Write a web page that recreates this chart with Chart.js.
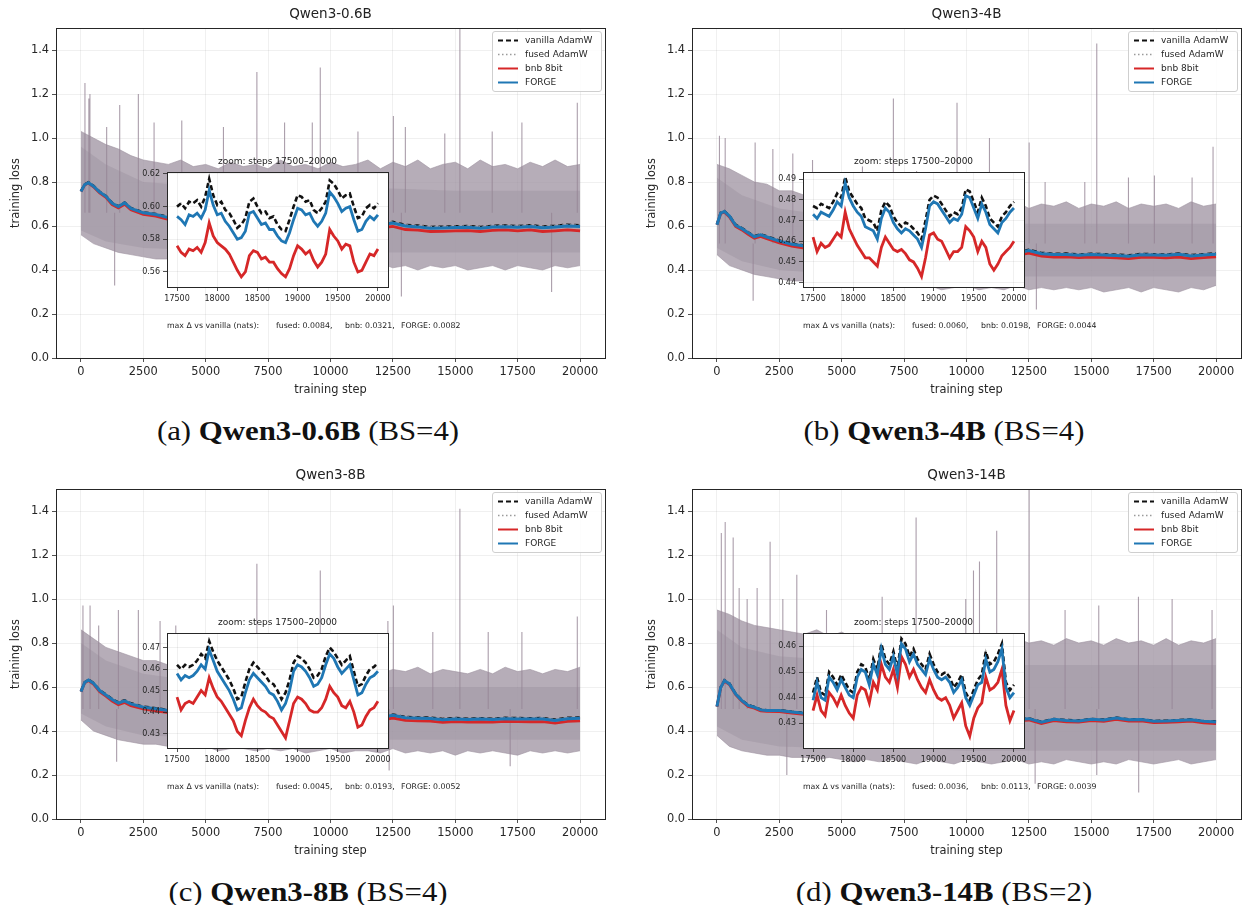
<!DOCTYPE html>
<html>
<head>
<meta charset="utf-8">
<script src="https://cdn.jsdelivr.net/npm/chart.js@4.4.6/dist/chart.umd.min.js"></script>
<style>
  body { margin: 0; width: 1243px; height: 905px; overflow: hidden; background: #fff; position: relative; }
  canvas { position: absolute; }
  .txt { position: absolute; white-space: pre; color: #222; font-family: "DejaVu Sans", sans-serif; line-height: 1; }
  .mid { transform: translate(-50%, -50%); }
  .lft { transform: translate(0, -50%); }
  .cap { position: absolute; white-space: pre; color: #111; font-family: "Liberation Serif", serif; font-size: 28px; line-height: 1;
         transform: translate(-50%, -50%) scaleX(1.1); }
</style>
</head>
<body>
<script>
// ---- data -----------------------------------------------------------------
const seriesNames = ['vanilla AdamW', 'fused AdamW', 'bnb 8bit', 'FORGE'];
const panelTitles = ['Qwen3-0.6B', 'Qwen3-4B', 'Qwen3-8B', 'Qwen3-14B'];
const panelLetters = ['(a)', '(b)', '(c)', '(d)'];
const batchSizes = [4, 4, 4, 2];

const fusedDelta = [0.0084, 0.0060, 0.0045, 0.0036];
const bnbDelta = [0.0321, 0.0198, 0.0193, 0.0113];
const forgeDelta = [0.0082, 0.0044, 0.0052, 0.0039];

const mainXTicks = [0, 2500, 5000, 7500, 10000, 12500, 15000, 17500, 20000];
const mainXLabels = ['0', '2500', '5000', '7500', '10000', '12500', '15000', '17500', '20000'];
const mainYTicks = [0, 0.2, 0.4, 0.6, 0.8, 1.0, 1.2, 1.4];
const mainYLabels = ['0.0', '0.2', '0.4', '0.6', '0.8', '1.0', '1.2', '1.4'];
const insetXTicks = [17500, 18000, 18500, 19000, 19500, 20000];
const insetXLabels = ['17500', '18000', '18500', '19000', '19500', '20000'];
const insetYTicks = [[0.56, 0.58, 0.60, 0.62], [0.44, 0.45, 0.46, 0.47, 0.48, 0.49], [0.43, 0.44, 0.45, 0.46, 0.47], [0.43, 0.44, 0.45, 0.46]];
const insetYLabels = [['0.56', '0.58', '0.60', '0.62'], ['0.44', '0.45', '0.46', '0.47', '0.48', '0.49'], ['0.43', '0.44', '0.45', '0.46', '0.47'], ['0.43', '0.44', '0.45', '0.46']];
const insetYRange = [[0.5508, 0.6212], [0.4379, 0.4934], [0.4233, 0.4768], [0.4204, 0.4652]];

// smoothed curves, main axes
const mainSteps = [0, 150, 300, 500, 750, 1000, 1250, 1500, 1750, 2000, 2500, 3000, 3500, 4000, 6000, 8000, 10000, 12000,
  12500, 13000, 13500, 14000, 14500, 15000, 15500, 16000, 16500, 17000, 17500, 18000, 18500, 19000, 19500, 20000];

const a_vanilla = [0.758,0.789,0.799,0.783,0.756,0.737,0.705,0.690,0.707,0.682,0.662,0.655,0.641,0.634,0.626,0.620,0.616,0.611,
  0.619,0.605,0.602,0.596,0.597,0.599,0.600,0.596,0.601,0.603,0.600,0.604,0.598,0.601,0.606,0.603];
const a_bnb = [0.757,0.787,0.795,0.778,0.750,0.730,0.697,0.682,0.699,0.674,0.653,0.645,0.630,0.620,0.608,0.600,0.595,0.591,
  0.598,0.584,0.581,0.575,0.576,0.578,0.579,0.575,0.580,0.582,0.578,0.582,0.575,0.578,0.582,0.578];
const a_forge = [0.757,0.788,0.797,0.781,0.754,0.735,0.703,0.688,0.705,0.680,0.660,0.652,0.638,0.630,0.622,0.615,0.610,0.606,
  0.614,0.600,0.596,0.590,0.591,0.593,0.594,0.590,0.595,0.597,0.594,0.598,0.592,0.595,0.600,0.598];

const b_vanilla = [0.607,0.661,0.668,0.647,0.606,0.591,0.572,0.554,0.563,0.553,0.534,0.520,0.512,0.507,0.498,0.492,0.486,0.482,
  0.492,0.478,0.474,0.475,0.471,0.474,0.472,0.470,0.467,0.473,0.472,0.470,0.475,0.468,0.472,0.476];
const b_bnb = [0.606,0.657,0.663,0.641,0.598,0.582,0.562,0.544,0.553,0.542,0.523,0.508,0.500,0.494,0.484,0.477,0.471,0.467,
  0.477,0.463,0.459,0.460,0.456,0.459,0.457,0.455,0.452,0.458,0.457,0.455,0.459,0.452,0.456,0.460];
const b_forge = [0.606,0.659,0.666,0.645,0.603,0.588,0.569,0.551,0.560,0.550,0.531,0.517,0.509,0.503,0.494,0.488,0.482,0.478,
  0.488,0.474,0.470,0.471,0.467,0.470,0.468,0.466,0.463,0.469,0.468,0.467,0.471,0.464,0.468,0.472];

const c_vanilla = [0.580,0.622,0.634,0.619,0.586,0.566,0.546,0.530,0.540,0.526,0.511,0.504,0.496,0.492,0.482,0.474,0.469,0.465,
  0.475,0.464,0.462,0.461,0.455,0.459,0.456,0.458,0.456,0.460,0.459,0.458,0.459,0.452,0.460,0.462];
const c_bnb = [0.579,0.619,0.629,0.613,0.579,0.558,0.536,0.520,0.530,0.515,0.500,0.492,0.484,0.478,0.467,0.459,0.453,0.449,
  0.459,0.448,0.446,0.445,0.439,0.443,0.440,0.442,0.440,0.444,0.443,0.442,0.443,0.436,0.444,0.446];
const c_forge = [0.579,0.621,0.632,0.617,0.584,0.564,0.543,0.527,0.537,0.523,0.508,0.501,0.493,0.488,0.478,0.470,0.465,0.461,
  0.471,0.460,0.458,0.457,0.451,0.455,0.452,0.454,0.452,0.456,0.455,0.454,0.455,0.448,0.456,0.458];

const d_vanilla = [0.512,0.599,0.631,0.616,0.570,0.540,0.518,0.510,0.498,0.495,0.495,0.488,0.483,0.479,0.472,0.464,0.457,0.454,
  0.458,0.442,0.455,0.450,0.448,0.455,0.452,0.461,0.453,0.454,0.446,0.447,0.450,0.453,0.446,0.443];
const d_bnb = [0.511,0.597,0.627,0.611,0.565,0.535,0.512,0.504,0.492,0.489,0.488,0.481,0.476,0.471,0.464,0.456,0.449,0.446,
  0.450,0.434,0.447,0.442,0.440,0.447,0.444,0.453,0.445,0.446,0.438,0.439,0.442,0.445,0.437,0.434];
const d_forge = [0.511,0.598,0.629,0.614,0.568,0.538,0.516,0.508,0.496,0.493,0.493,0.486,0.481,0.477,0.470,0.462,0.455,0.452,
  0.456,0.440,0.453,0.448,0.446,0.453,0.450,0.459,0.451,0.452,0.444,0.445,0.448,0.451,0.444,0.441];

// raw-loss envelope (outer reach of the noisy per-step curves)
const envSteps = [0, 500, 1000, 1500, 2000, 2500, 3000, 3500, 4000, 4500, 5000, 5500, 6000, 6500, 7000, 7500, 8000, 8500, 9000, 9500,
  10000, 10500, 11000, 11500, 12000, 12500, 13000, 13500, 14000, 14500, 15000, 15500, 16000, 16500, 17000, 17500, 18000, 18500, 19000, 19500, 20000];
const a_envUpper = [1.03,1.00,0.97,0.95,0.92,0.90,0.89,0.88,0.90,0.87,0.88,0.86,0.89,0.87,0.88,0.86,0.90,0.87,0.88,0.86,
  0.89,0.87,0.88,0.90,0.86,0.89,0.87,0.90,0.86,0.88,0.89,0.86,0.90,0.87,0.88,0.86,0.89,0.87,0.90,0.87,0.88];
const a_envLower = [0.56,0.52,0.50,0.48,0.47,0.46,0.45,0.45,0.44,0.44,0.43,0.44,0.42,0.43,0.42,0.43,0.42,0.43,0.41,0.42,
  0.43,0.41,0.42,0.41,0.43,0.41,0.42,0.40,0.42,0.41,0.42,0.40,0.41,0.42,0.40,0.42,0.41,0.40,0.42,0.41,0.42];
const b_envUpper = [0.88,0.86,0.83,0.80,0.79,0.76,0.76,0.74,0.73,0.75,0.72,0.73,0.71,0.72,0.70,0.72,0.70,0.71,0.69,0.70,
  0.71,0.68,0.70,0.69,0.71,0.68,0.70,0.69,0.71,0.68,0.70,0.69,0.71,0.68,0.70,0.69,0.70,0.68,0.71,0.69,0.70];
const b_envLower = [0.47,0.42,0.40,0.38,0.37,0.36,0.35,0.35,0.34,0.34,0.33,0.34,0.33,0.33,0.32,0.33,0.32,0.33,0.31,0.32,
  0.33,0.31,0.32,0.31,0.33,0.31,0.32,0.31,0.32,0.31,0.32,0.30,0.31,0.32,0.30,0.32,0.31,0.30,0.32,0.31,0.33];
const c_envUpper = [0.86,0.82,0.78,0.76,0.74,0.72,0.72,0.70,0.71,0.69,0.70,0.68,0.69,0.67,0.69,0.68,0.67,0.69,0.66,0.68,
  0.67,0.69,0.66,0.68,0.66,0.68,0.67,0.69,0.66,0.68,0.67,0.66,0.68,0.66,0.69,0.67,0.68,0.66,0.68,0.67,0.69];
const c_envLower = [0.45,0.40,0.38,0.36,0.35,0.34,0.34,0.33,0.33,0.32,0.33,0.31,0.32,0.32,0.31,0.32,0.31,0.32,0.30,0.31,
  0.32,0.30,0.31,0.31,0.30,0.32,0.30,0.31,0.30,0.31,0.29,0.31,0.30,0.31,0.30,0.29,0.31,0.30,0.31,0.30,0.31];
const d_envUpper = [0.95,0.93,0.90,0.88,0.87,0.86,0.85,0.84,0.86,0.83,0.85,0.82,0.84,0.82,0.83,0.81,0.84,0.81,0.83,0.80,
  0.82,0.80,0.83,0.79,0.82,0.80,0.81,0.79,0.82,0.80,0.81,0.79,0.82,0.80,0.81,0.79,0.82,0.79,0.81,0.80,0.82];
const d_envLower = [0.38,0.33,0.31,0.30,0.29,0.29,0.28,0.28,0.27,0.28,0.27,0.26,0.27,0.26,0.27,0.26,0.25,0.27,0.26,0.25,
  0.27,0.26,0.25,0.26,0.27,0.25,0.26,0.25,0.27,0.26,0.25,0.26,0.25,0.27,0.26,0.25,0.26,0.27,0.25,0.26,0.27];

// dense core of the raw-loss cloud
const coreSteps = [0, 1000, 2500, 5000, 7500, 10000, 12500, 15000, 17500, 20000];
const a_coreUpper = [0.96, 0.88, 0.80, 0.78, 0.77, 0.77, 0.77, 0.76, 0.76, 0.76];
const a_coreLower = [0.58, 0.53, 0.50, 0.49, 0.49, 0.48, 0.48, 0.48, 0.48, 0.48];
const b_coreUpper = [0.82, 0.74, 0.68, 0.64, 0.62, 0.62, 0.61, 0.61, 0.61, 0.61];
const b_coreLower = [0.50, 0.44, 0.40, 0.38, 0.37, 0.37, 0.37, 0.37, 0.37, 0.37];
const c_coreUpper = [0.80, 0.72, 0.66, 0.62, 0.61, 0.60, 0.60, 0.60, 0.60, 0.60];
const c_coreLower = [0.48, 0.42, 0.38, 0.37, 0.36, 0.36, 0.36, 0.36, 0.36, 0.36];
const d_coreUpper = [0.86, 0.78, 0.74, 0.72, 0.71, 0.70, 0.70, 0.70, 0.70, 0.70];
const d_coreLower = [0.42, 0.36, 0.33, 0.32, 0.32, 0.31, 0.31, 0.31, 0.31, 0.31];

// isolated spikes / dips of the raw loss: [step, loss]
const a_spikes = [[160,1.25],[317,1.18],[360,1.2],[1030,1.05],[1350,0.33],[1553,1.15],[2300,1.2],[2930,1.07],[4040,1.08],[5710,1.05],
  [7050,1.3],[8160,1.07],[9270,1.07],[9590,1.32],[11100,1.03],[12520,1.1],[12840,0.28],[13000,1.05],[14580,1.02],[15185,1.5],
  [16480,1.03],[17670,1.07],[18860,0.3],[19890,1.16]];
const b_spikes = [[100,1.01],[330,1.0],[1450,0.26],[1530,0.98],[2240,0.95],[3040,0.93],[3830,0.9],[5830,0.87],[7070,1.18],[8000,0.85],
  [9620,1.16],[10920,1.0],[12510,0.98],[12800,0.22],[13150,0.8],[14740,0.8],[15220,1.43],[16490,0.82],[17530,0.83],[19040,0.82],[19880,0.96]];
const c_spikes = [[80,0.97],[365,0.97],[710,0.88],[1430,0.26],[1500,0.95],[2300,0.95],[3170,0.9],[3800,0.88],[5900,0.8],[7050,1.16],
  [9590,1.13],[12300,0.9],[12350,0.22],[12520,0.97],[14100,0.85],[15185,1.41],[16320,0.85],[17200,0.24],[17670,0.85],[19890,0.92]];
const d_spikes = [[175,1.3],[330,1.35],[650,1.28],[890,1.05],[1210,1.0],[1610,1.05],[2130,1.26],[2640,1.0],[2800,0.2],[3200,1.11],
  [4390,0.95],[6620,1.01],[7980,1.37],[9970,1.0],[10280,1.13],[10520,1.17],[11210,1.31],[12510,1.5],[12750,0.16],[13950,0.95],
  [15220,0.2],[15300,0.97],[16890,1.01],[16900,0.12],[18240,1.0],[19840,0.95]];

// zoom insets, steps 17500-20000
const insetSteps = [17500,17550,17600,17650,17700,17750,17800,17850,17900,17950,18000,18050,18100,18150,18200,18250,18300,18350,
  18400,18450,18500,18550,18600,18650,18700,18750,18800,18850,18900,18950,19000,19050,19100,19150,19200,19250,19300,19350,
  19400,19450,19500,19550,19600,19650,19700,19750,19800,19850,19900,19950,20000];

const ia_vanilla = [0.600,0.602,0.599,0.603,0.602,0.604,0.600,0.606,0.617,0.607,0.601,0.603,0.598,0.596,0.592,0.587,0.589,0.593,
  0.603,0.605,0.600,0.596,0.597,0.593,0.594,0.589,0.586,0.585,0.592,0.600,0.607,0.606,0.603,0.604,0.598,0.596,0.599,0.603,
  0.616,0.614,0.610,0.605,0.607,0.608,0.600,0.593,0.594,0.599,0.601,0.599,0.602];
const ia_bnb = [0.576,0.572,0.570,0.574,0.573,0.575,0.572,0.578,0.590,0.582,0.578,0.576,0.574,0.571,0.566,0.561,0.557,0.560,
  0.570,0.573,0.572,0.568,0.569,0.566,0.566,0.562,0.559,0.557,0.562,0.570,0.576,0.574,0.571,0.573,0.567,0.563,0.566,0.571,
  0.586,0.582,0.579,0.574,0.577,0.576,0.566,0.560,0.561,0.566,0.571,0.570,0.574];
const ia_forge = [0.594,0.592,0.589,0.595,0.594,0.596,0.593,0.598,0.610,0.601,0.595,0.596,0.591,0.588,0.584,0.580,0.581,0.585,
  0.596,0.597,0.593,0.589,0.590,0.586,0.586,0.582,0.579,0.578,0.584,0.592,0.599,0.598,0.595,0.596,0.591,0.588,0.591,0.596,
  0.609,0.606,0.602,0.597,0.599,0.600,0.592,0.585,0.586,0.591,0.594,0.592,0.595];

const ib_vanilla = [0.477,0.476,0.478,0.477,0.476,0.479,0.483,0.481,0.491,0.484,0.481,0.478,0.476,0.471,0.470,0.469,0.465,0.475,
  0.479,0.477,0.472,0.469,0.467,0.469,0.468,0.466,0.464,0.461,0.470,0.480,0.482,0.481,0.478,0.475,0.472,0.474,0.473,0.476,
  0.485,0.484,0.479,0.474,0.481,0.477,0.471,0.469,0.467,0.472,0.474,0.477,0.479];
const ib_bnb = [0.462,0.455,0.459,0.457,0.458,0.461,0.464,0.462,0.474,0.466,0.462,0.458,0.455,0.452,0.452,0.450,0.448,0.457,
  0.462,0.459,0.456,0.455,0.456,0.454,0.451,0.450,0.447,0.443,0.452,0.463,0.464,0.461,0.460,0.456,0.452,0.455,0.455,0.457,
  0.467,0.465,0.462,0.455,0.460,0.457,0.449,0.446,0.449,0.453,0.455,0.457,0.460];
const ib_forge = [0.473,0.471,0.474,0.473,0.472,0.475,0.479,0.477,0.488,0.481,0.477,0.474,0.472,0.467,0.466,0.465,0.461,0.471,
  0.476,0.474,0.469,0.466,0.464,0.466,0.465,0.463,0.461,0.457,0.466,0.477,0.479,0.478,0.475,0.472,0.469,0.471,0.470,0.473,
  0.482,0.481,0.476,0.471,0.478,0.474,0.468,0.466,0.464,0.469,0.471,0.474,0.476];

const ic_vanilla = [0.462,0.460,0.462,0.461,0.462,0.464,0.467,0.465,0.473,0.468,0.464,0.461,0.458,0.455,0.451,0.446,0.447,0.454,
  0.460,0.463,0.461,0.459,0.457,0.454,0.453,0.450,0.446,0.449,0.455,0.463,0.466,0.465,0.463,0.460,0.456,0.457,0.460,0.466,
  0.470,0.468,0.465,0.462,0.464,0.466,0.459,0.452,0.453,0.457,0.460,0.461,0.463];
const ic_bnb = [0.447,0.441,0.444,0.445,0.444,0.447,0.450,0.448,0.456,0.451,0.447,0.445,0.442,0.439,0.436,0.431,0.429,0.436,
  0.442,0.446,0.443,0.441,0.440,0.438,0.437,0.434,0.431,0.428,0.436,0.444,0.447,0.446,0.444,0.441,0.440,0.440,0.442,0.446,
  0.452,0.449,0.447,0.443,0.442,0.445,0.440,0.433,0.434,0.438,0.441,0.442,0.445];
const ic_forge = [0.458,0.455,0.457,0.456,0.457,0.459,0.462,0.460,0.469,0.464,0.459,0.456,0.453,0.450,0.446,0.441,0.442,0.449,
  0.455,0.458,0.456,0.454,0.452,0.449,0.448,0.445,0.441,0.444,0.450,0.459,0.462,0.461,0.459,0.456,0.452,0.453,0.456,0.462,
  0.467,0.465,0.461,0.458,0.460,0.462,0.455,0.448,0.449,0.453,0.456,0.457,0.459];

const id_vanilla = [0.442,0.448,0.442,0.441,0.450,0.448,0.445,0.449,0.446,0.443,0.442,0.450,0.453,0.452,0.447,0.455,0.451,0.461,
  0.455,0.453,0.458,0.451,0.463,0.461,0.456,0.459,0.455,0.453,0.451,0.457,0.453,0.450,0.449,0.450,0.448,0.444,0.446,0.449,
  0.442,0.439,0.443,0.447,0.449,0.458,0.453,0.454,0.457,0.461,0.446,0.443,0.445];
const id_bnb = [0.435,0.441,0.435,0.433,0.442,0.440,0.437,0.441,0.437,0.434,0.432,0.441,0.444,0.443,0.438,0.446,0.443,0.453,
  0.448,0.446,0.451,0.444,0.456,0.453,0.448,0.451,0.447,0.444,0.442,0.447,0.443,0.440,0.439,0.440,0.437,0.432,0.435,0.438,
  0.429,0.425,0.432,0.436,0.438,0.448,0.443,0.444,0.446,0.451,0.437,0.431,0.435];
const id_forge = [0.439,0.446,0.440,0.439,0.448,0.446,0.443,0.447,0.444,0.441,0.440,0.448,0.451,0.450,0.445,0.453,0.449,0.459,
  0.453,0.451,0.456,0.449,0.461,0.459,0.454,0.457,0.453,0.451,0.449,0.455,0.451,0.448,0.447,0.448,0.446,0.442,0.444,0.447,
  0.440,0.437,0.441,0.445,0.446,0.455,0.450,0.451,0.454,0.459,0.444,0.440,0.442];

// ---- styling ----------------------------------------------------------------
const FONT = '"DejaVu Sans", sans-serif';
const INK = '#262626';
const GRID = 'rgba(0,0,0,0.08)';
const BAND_OUT = 'rgba(158,146,160,0.75)';
const BAND_CORE = 'rgba(158,146,160,0.45)';
const SPIKE = 'rgba(150,134,150,0.8)';
const STYLE = {
  'vanilla AdamW': { color: '#111111', dash: [5, 3], width: 2.4 },
  'fused AdamW': { color: '#9a9a9a', dash: [1.5, 2.5], width: 1.6 },
  'bnb 8bit': { color: '#d62728', dash: [], width: 2.8 },
  'FORGE': { color: '#1f77b4', dash: [], width: 3.0 },
};
const INSET_WIDTH = { 'vanilla AdamW': 2.6, 'fused AdamW': 1.5, 'bnb 8bit': 2.8, 'FORGE': 2.8 };

Chart.defaults.font.family = FONT;
Chart.defaults.color = INK;

const pts = (xs, ys) => ys.map((y, i) => ({ x: xs[i], y }));

const framePlugin = {
  id: 'frame',
  beforeDraw(chart, args, opts) {
    if (!opts.fill) return;
    const a = chart.chartArea;
    chart.ctx.save();
    chart.ctx.fillStyle = opts.fill;
    chart.ctx.fillRect(a.left, a.top, a.width, a.height);
    chart.ctx.restore();
  },
  afterDraw(chart) {
    const { ctx, chartArea: a } = chart;
    ctx.save();
    ctx.strokeStyle = INK;
    ctx.lineWidth = 1;
    ctx.strokeRect(Math.round(a.left) + 0.5, Math.round(a.top) + 0.5, Math.round(a.width), Math.round(a.height));
    ctx.restore();
  },
};

// matplotlib-style legend inside the upper-right corner
const lossLegend = {
  id: 'lossLegend',
  afterDraw(chart) {
    const { ctx, chartArea: a } = chart;
    const x0 = a.right - 113, y0 = a.top + 3, w = 109, h = 60;
    ctx.save();
    ctx.beginPath();
    ctx.roundRect(x0 + 0.5, y0 + 0.5, w, h, 2.5);
    ctx.fillStyle = 'rgba(255,255,255,0.85)';
    ctx.fill();
    ctx.strokeStyle = '#cfcfcf';
    ctx.lineWidth = 1;
    ctx.stroke();
    ctx.font = '9px ' + FONT;
    ctx.textBaseline = 'middle';
    seriesNames.forEach((name, i) => {
      const s = STYLE[name];
      const y = y0 + 9.5 + i * 14;
      ctx.beginPath();
      ctx.setLineDash(s.dash);
      ctx.strokeStyle = s.color;
      ctx.lineWidth = Math.min(s.width, 2);
      ctx.moveTo(x0 + 6, y);
      ctx.lineTo(x0 + 26, y);
      ctx.stroke();
      ctx.setLineDash([]);
      ctx.fillStyle = INK;
      ctx.fillText(name, x0 + 33, y);
    });
    ctx.restore();
  },
};

function lineSet(name, data, order, width) {
  const s = STYLE[name];
  return { label: name, data, borderColor: s.color, borderDash: s.dash, borderWidth: width || s.width, order, fill: false };
}

function axis(min, max, ticks, labels, size, opts) {
  return Object.assign({
    type: 'linear', min, max,
    afterBuildTicks: (sc) => { sc.ticks = ticks.map((v) => ({ value: v })); },
    ticks: { callback: (v, i) => labels[i], font: { size }, color: INK, autoSkip: false, maxRotation: 0 },
    grid: { color: GRID, tickColor: INK, tickLength: 4, lineWidth: 0.8 },
    border: { display: false },
  }, opts);
}

function addText(cls, text, left, top, size) {
  const d = document.createElement('div');
  d.className = 'txt ' + cls;
  d.textContent = text;
  d.style.left = left + 'px';
  d.style.top = top + 'px';
  d.style.fontSize = size + 'px';
  document.body.appendChild(d);
  return d;
}

function makeCanvas(left, top, w, h) {
  const c = document.createElement('canvas');
  c.width = w; c.height = h;
  c.style.left = left + 'px'; c.style.top = top + 'px';
  c.style.width = w + 'px'; c.style.height = h + 'px';
  document.body.appendChild(c);
  return c.getContext('2d');
}

const PANELS = [
  { dx: 0, dy: 0, van: a_vanilla, bnb: a_bnb, forge: a_forge, up: a_envUpper, lo: a_envLower, cu: a_coreUpper, cl: a_coreLower,
    spikes: a_spikes, base: 0.66, iv: ia_vanilla, ib: ia_bnb, ifg: ia_forge },
  { dx: 636, dy: 0, van: b_vanilla, bnb: b_bnb, forge: b_forge, up: b_envUpper, lo: b_envLower, cu: b_coreUpper, cl: b_coreLower,
    spikes: b_spikes, base: 0.52, iv: ib_vanilla, ib: ib_bnb, ifg: ib_forge },
  { dx: 0, dy: 461, van: c_vanilla, bnb: c_bnb, forge: c_forge, up: c_envUpper, lo: c_envLower, cu: c_coreUpper, cl: c_coreLower,
    spikes: c_spikes, base: 0.5, iv: ic_vanilla, ib: ic_bnb, ifg: ic_forge },
  { dx: 636, dy: 461, van: d_vanilla, bnb: d_bnb, forge: d_forge, up: d_envUpper, lo: d_envLower, cu: d_coreUpper, cl: d_coreLower,
    spikes: d_spikes, base: 0.5, iv: id_vanilla, ib: id_bnb, ifg: id_forge },
];

PANELS.forEach((p, k) => {
  // main axes: chart area 56..605 x 28..358 inside the panel
  const spikeSegs = p.spikes.flatMap(([s, v]) => [{ x: s, y: p.base }, { x: s, y: v }, { x: s, y: null }]);
  new Chart(makeCanvas(p.dx, p.dy, 607, 400), {
    type: 'line',
    data: {
      datasets: [
        lineSet('FORGE', pts(mainSteps, p.forge), 1),
        lineSet('bnb 8bit', pts(mainSteps, p.bnb), 2),
        lineSet('fused AdamW', pts(mainSteps, p.van), 3),
        lineSet('vanilla AdamW', pts(mainSteps, p.van), 4),
        { label: 'spikes', data: spikeSegs, borderColor: SPIKE, borderWidth: 1.1, order: 5, fill: false },
        { label: 'core hi', data: pts(coreSteps, p.cu), borderWidth: 0, backgroundColor: BAND_CORE, fill: '+1', order: 6 },
        { label: 'core lo', data: pts(coreSteps, p.cl), borderWidth: 0, fill: false, order: 7 },
        { label: 'raw hi', data: pts(envSteps, p.up), borderColor: BAND_OUT, backgroundColor: BAND_OUT, borderWidth: 0.8, fill: '+1', order: 8 },
        { label: 'raw lo', data: pts(envSteps, p.lo), borderColor: BAND_OUT, borderWidth: 0.8, fill: false, order: 9 },
      ],
    },
    options: {
      responsive: false, animation: false, events: [],
      layout: { padding: { top: 28, right: 2, left: 0, bottom: 0 } },
      elements: { point: { radius: 0 }, line: { tension: 0 } },
      plugins: { legend: { display: false }, tooltip: { enabled: false }, frame: {} },
      scales: {
        x: axis(-1000, 21000, mainXTicks, mainXLabels, 11.4, {
          afterFit: (s) => { s.height = 42; },
          title: { display: true, text: 'training step', font: { size: 11.4 }, color: INK, padding: { top: 0, bottom: 3 } },
        }),
        y: axis(0, 1.5, mainYTicks, mainYLabels, 11.4, {
          afterFit: (s) => { s.width = 56; },
          title: { display: true, text: 'training loss', font: { size: 11.4 }, color: INK, padding: { top: 9, bottom: 0 } },
        }),
      },
    },
    plugins: [framePlugin, lossLegend],
  });

  // inset axes: chart area 167..388 x 172..287 inside the panel
  const [ymin, ymax] = insetYRange[k];
  new Chart(makeCanvas(p.dx + 127, p.dy + 150, 268, 165), {
    type: 'line',
    data: {
      datasets: [
        lineSet('FORGE', pts(insetSteps, p.ifg), 1, INSET_WIDTH['FORGE']),
        lineSet('bnb 8bit', pts(insetSteps, p.ib), 2, INSET_WIDTH['bnb 8bit']),
        lineSet('vanilla AdamW', pts(insetSteps, p.iv), 3, INSET_WIDTH['vanilla AdamW']),
        lineSet('fused AdamW', pts(insetSteps, p.iv), 4, INSET_WIDTH['fused AdamW']),
      ],
    },
    options: {
      responsive: false, animation: false, events: [],
      layout: { padding: { top: 22, right: 7, left: 0, bottom: 0 } },
      elements: { point: { radius: 0 }, line: { tension: 0 } },
      plugins: { legend: { display: false }, tooltip: { enabled: false }, frame: { fill: '#ffffff' } },
      scales: {
        x: axis(17375, 20125, insetXTicks, insetXLabels, 8, { afterFit: (s) => { s.height = 28; } }),
        y: axis(ymin, ymax, insetYTicks[k], insetYLabels[k], 8, { afterFit: (s) => { s.width = 40; } }),
      },
    },
    plugins: [framePlugin],
  });

  addText('mid', panelTitles[k], p.dx + 330.5, p.dy + 14, 13.5);
  addText('mid', 'zoom: steps 17500\u201320000', p.dx + 277.5, p.dy + 161, 9);
  addText('lft', 'max \u0394 vs vanilla (nats):', p.dx + 167, p.dy + 326, 7.8);
  addText('lft', 'fused: ' + fusedDelta[k].toFixed(4) + ',', p.dx + 276, p.dy + 326, 7.8);
  addText('lft', 'bnb: ' + bnbDelta[k].toFixed(4) + ',', p.dx + 345, p.dy + 326, 7.8);
  addText('lft', 'FORGE: ' + forgeDelta[k].toFixed(4), p.dx + 401, p.dy + 326, 7.8);

  const cap = document.createElement('div');
  cap.className = 'cap';
  cap.style.left = (p.dx + 307.5) + 'px';
  cap.style.top = (p.dy + 431) + 'px';
  cap.innerHTML = panelLetters[k] + ' <b>' + panelTitles[k] + '</b> (BS=' + batchSizes[k] + ')';
  document.body.appendChild(cap);
});
</script>
</body>
</html>
